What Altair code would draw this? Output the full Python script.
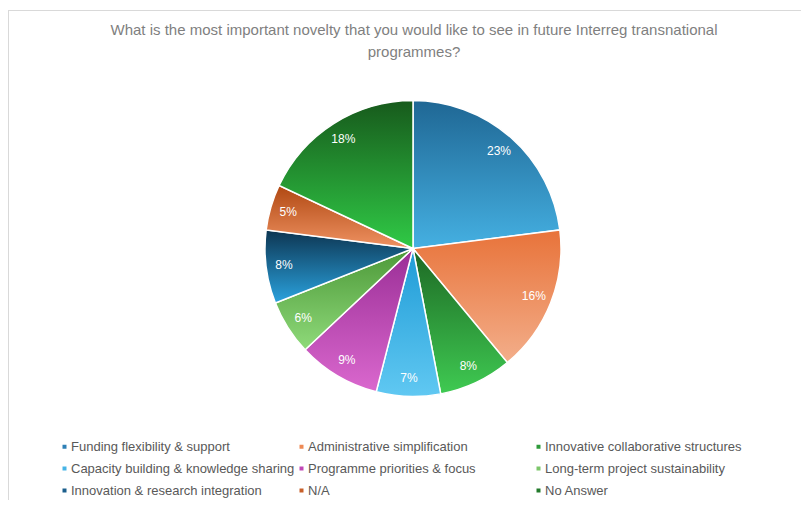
import altair as alt
import pandas as pd

categories = [
    "Funding flexibility & support",
    "Administrative simplification",
    "Innovative collaborative structures",
    "Capacity building & knowledge sharing",
    "Programme priorities & focus",
    "Long-term project sustainability",
    "Innovation & research integration",
    "N/A",
    "No Answer",
]
values = [23, 16, 8, 7, 9, 6, 8, 5, 18]
legend_colors = ["#2f80b6", "#ee8a55", "#2e9a3a", "#47b4e6", "#c048b6",
                 "#7cc66a", "#1b5f8c", "#c8602a", "#237a2b"]
grad_top = ["#1f6794", "#e8733a", "#1d6824", "#1f9bd6", "#9a2e96",
            "#4c9838", "#0d3551", "#b04812", "#175a1c"]
grad_bottom = ["#45b0e2", "#f3ae8a", "#3fca52", "#60c8f2", "#da68ce",
               "#8fda7a", "#2aa2de", "#ef9262", "#30ca46"]
title_lines = [
    "What is the most important novelty that you would like to see in future Interreg transnational",
    "programmes?",
]

df = pd.DataFrame({"cat": categories, "val": values, "idx": list(range(len(values)))})

CX, CY, R = 405, 240.5, 148
FONT = "Liberation Sans"

base = (
    alt.Chart(df)
    .transform_joinaggregate(total="sum(val)")
    .transform_window(cum="sum(val)", sort=[alt.SortField("idx", order="ascending")], frame=[None, 0])
    .transform_calculate(
        start="(datum.cum - datum.val) / datum.total",
        end="datum.cum / datum.total",
        mid="(datum.cum - datum.val / 2) / datum.total",
        label="format(datum.val / datum.total, '.0%')",
    )
)

theta_scale = alt.Scale(domain=[0, 1])

legend_layer = base.mark_arc(outerRadius=R, stroke="white", strokeWidth=1.5).encode(
    theta=alt.Theta("start:Q", stack=False, scale=theta_scale),
    theta2=alt.Theta2("end:Q"),
    x=alt.value(CX),
    y=alt.value(CY),
    color=alt.Color(
        "cat:N",
        scale=alt.Scale(domain=categories, range=legend_colors),
        legend=alt.Legend(
            orient="none",
            direction="horizontal",
            legendX=50,
            legendY=432,
            columns=3,
            gridAlign="all",
            symbolType="square",
            symbolSize=16,
            symbolStrokeWidth=0,
            labelFont=FONT,
            labelFontSize=13,
            labelColor="#595959",
            labelOffset=0,
            labelLimit=300,
            rowPadding=8,
            columnPadding=0,
            padding=0,
            title=None,
        ),
    ),
)

grad_layers = []
for c, t, b in zip(categories, grad_top, grad_bottom):
    grad = alt.LinearGradient(
        gradient="linear",
        stops=[alt.GradientStop(color=t, offset=0), alt.GradientStop(color=b, offset=1)],
        x1=0, x2=0, y1=0, y2=1,
    )
    grad_layers.append(
        base.transform_filter(alt.datum.cat == c)
        .mark_arc(outerRadius=R, stroke="white", strokeWidth=1.5, fill=grad)
        .encode(
            theta=alt.Theta("start:Q", stack=False, scale=theta_scale),
            theta2=alt.Theta2("end:Q"),
            x=alt.value(CX),
            y=alt.value(CY),
        )
    )

labels = base.mark_text(fontSize=12, color="white", font=FONT).encode(
    theta=alt.Theta("mid:Q", stack=False, scale=theta_scale),
    radius=alt.value(130),
    x=alt.value(CX),
    y=alt.value(CY),
    text="label:N",
)

one = pd.DataFrame({"k": [0]})
title = alt.Chart(one).mark_text(
    text=title_lines, font=FONT, fontSize=15, color="#7f7f7f",
    align="center", baseline="top", lineHeight=22,
).encode(x=alt.value(406), y=alt.value(15))

frame_top = alt.Chart(one).mark_rule(color="#d9d9d9", strokeWidth=1).encode(
    x=alt.value(0), x2=alt.value(793), y=alt.value(2.5)
)
frame_left = alt.Chart(one).mark_rule(color="#d9d9d9", strokeWidth=1).encode(
    x=alt.value(0.5), y=alt.value(2), y2=alt.value(492)
)

chart = (
    alt.layer(frame_top, frame_left, title, legend_layer, *grad_layers, labels)
    .properties(width=793, height=492, padding=0, autosize=alt.AutoSizeParams(type="none"),
                background="white")
    .configure_view(strokeWidth=0)
)

chart.save("out.html", embed_options={"renderer": "svg", "actions": False})
